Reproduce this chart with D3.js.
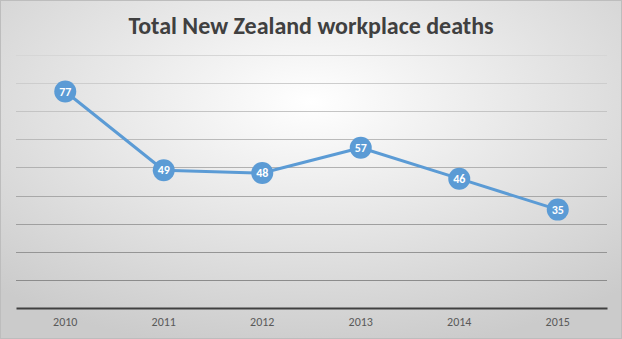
<!DOCTYPE html>
<html><head><meta charset="utf-8">
<script src="https://cdn.jsdelivr.net/npm/d3@7"></script>
<style>html,body{margin:0;padding:0;background:#fff}svg{display:block}</style>
</head><body>
<script>
const title = "Total New Zealand workplace deaths";
const years = ["2010","2011","2012","2013","2014","2015"];
const deaths = [77, 49, 48, 57, 46, 35];
const yTicks = [10,20,30,40,50,60,70,80,90];

const W = 622, H = 339;
const m = {left:16, right:15, top:55, bottom:31};
const svg = d3.select("body").append("svg").attr("width", W).attr("height", H);
const defs = svg.append("defs");
const rg = defs.append("radialGradient").attr("id","bg").attr("cx","50%").attr("cy","30%").attr("r","75%");
rg.append("stop").attr("offset","0%").attr("stop-color","#ffffff");
rg.append("stop").attr("offset","100%").attr("stop-color","#cbcbcb");
svg.append("rect").attr("x",0.5).attr("y",0.5).attr("width",W-1).attr("height",H-1)
  .attr("fill","url(#bg)").attr("stroke","#bdbdbd");

const x = d3.scaleBand().domain(years).range([m.left, W-m.right]);
const y = d3.scaleLinear().domain([0,90]).range([H-m.bottom, m.top]);
const gridCol = d3.scaleLinear().domain([90,10]).range(["#d6d6d6","#8c8c8c"]);

svg.append("g").selectAll("line").data(yTicks).join("line")
  .attr("x1", m.left).attr("x2", W-m.right)
  .attr("y1", d=>Math.round(y(d))+0.5).attr("y2", d=>Math.round(y(d))+0.5)
  .attr("stroke", d=>gridCol(d)).attr("stroke-width",1);

const xa = svg.append("g").attr("transform",`translate(0,${H-m.bottom})`)
  .call(d3.axisBottom(x).tickSize(0).tickPadding(9));
xa.select(".domain").attr("stroke","#404040").attr("stroke-width",2);
xa.selectAll("text").attr("fill","#595959").attr("font-size","12px")
  .attr("font-family","Carlito, Calibri, 'Open Sans', sans-serif");

svg.append("text").attr("x", W/2).attr("y", 34).attr("text-anchor","middle")
  .attr("font-family","Carlito, Calibri, 'Open Sans', sans-serif").attr("font-weight","bold")
  .attr("font-size","24px").attr("fill","#404040").text(title);

const pts = years.map((yr,i)=>({yr, v:deaths[i]}));
const line = d3.line().x(d=>x(d.yr)+x.bandwidth()/2).y(d=>y(d.v));
svg.append("path").datum(pts).attr("d", line).attr("fill","none")
  .attr("stroke","#5B9BD5").attr("stroke-width",3).attr("stroke-linejoin","round");

const g = svg.append("g").selectAll("g").data(pts).join("g")
  .attr("transform", d=>`translate(${x(d.yr)+x.bandwidth()/2},${y(d.v)})`);
g.append("circle").attr("r",11).attr("fill","#5B9BD5");
g.append("text").attr("text-anchor","middle").attr("dy","0.35em")
  .attr("font-family","Carlito, Calibri, 'Open Sans', sans-serif").attr("font-weight","bold")
  .attr("font-size","12px").attr("fill","#ffffff").text(d=>d.v);
</script>
</body></html>
